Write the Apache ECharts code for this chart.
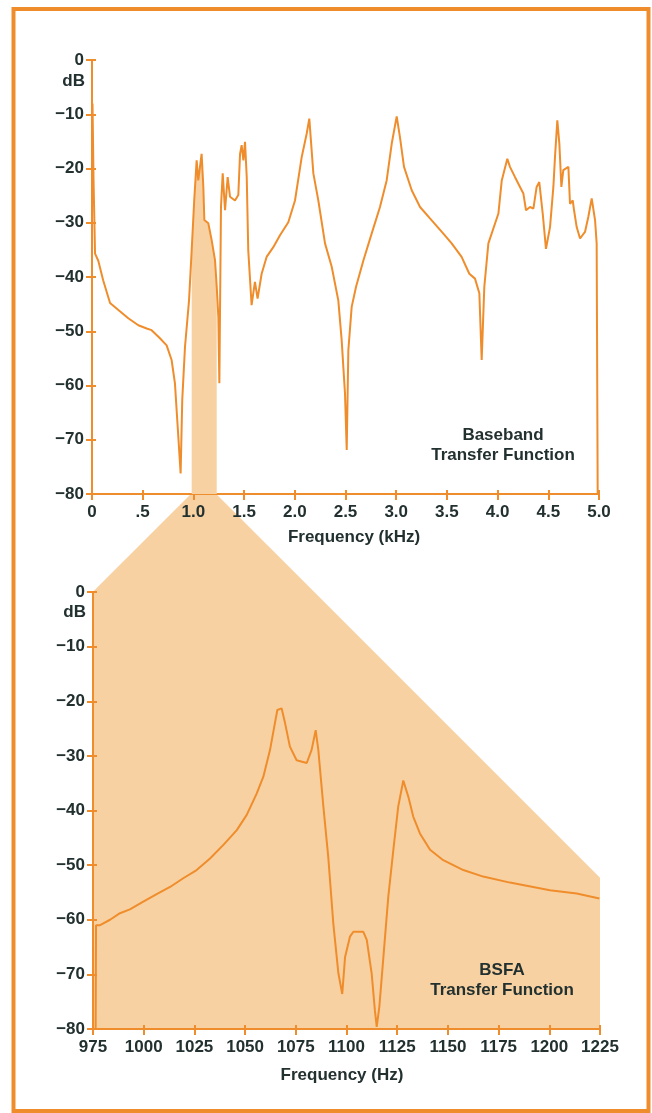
<!DOCTYPE html>
<html>
<head>
<meta charset="utf-8">
<title>Baseband and BSFA transfer functions</title>
<script src="https://cdn.jsdelivr.net/npm/echarts@6/dist/echarts.min.js"></script>
<style>
  html, body { margin: 0; padding: 0; background: #fff; }
  #chart { width: 652px; height: 1113px; }
</style>
</head>
<body>
<div id="chart"></div>
<script>
// baseband transfer function (kHz, dB)
var bbFreq = [0.005, 0.015, 0.03, 0.062, 0.11, 0.178, 0.26, 0.358, 0.457, 0.539, 0.588, 0.67, 0.736, 0.785, 0.818, 0.845,
  0.874, 0.89, 0.917, 0.957, 0.983, 1.008, 1.032, 1.048, 1.065, 1.081, 1.098, 1.108, 1.147, 1.18, 1.213, 1.23,
  1.246, 1.256, 1.272, 1.289, 1.312, 1.338, 1.361, 1.41, 1.443, 1.46, 1.476, 1.493, 1.509, 1.526, 1.541, 1.574,
  1.607, 1.633, 1.673, 1.722, 1.788, 1.854, 1.936, 2.002, 2.068, 2.117, 2.143, 2.183, 2.232, 2.298, 2.364, 2.429,
  2.462, 2.495, 2.512, 2.528, 2.561, 2.604, 2.677, 2.758, 2.84, 2.906, 2.956, 3.005, 3.037, 3.077, 3.153, 3.235,
  3.333, 3.465, 3.547, 3.645, 3.721, 3.777, 3.82, 3.843, 3.869, 3.909, 4.008, 4.041, 4.096, 4.122, 4.172, 4.221,
  4.254, 4.28, 4.32, 4.353, 4.385, 4.411, 4.445, 4.477, 4.517, 4.55, 4.566, 4.589, 4.609, 4.629, 4.648, 4.698,
  4.714, 4.741, 4.754, 4.78, 4.813, 4.862, 4.895, 4.928, 4.961, 4.977, 4.987]
var bbDb = [-8, -22, -35.7, -37, -40.6, -44.8, -46.1, -47.6, -48.9, -49.5, -49.8, -51.3, -52.6, -55.3, -59.6, -67.6,
  -76.2, -62.7, -52.9, -44.3, -35.1, -25.9, -18.5, -22.2, -19.7, -17.3, -23.4, -29.5, -30.1, -33.2, -36.9, -41.8,
  -47.3, -59.6, -27.1, -20.9, -27.7, -21.6, -25.2, -25.9, -24.9, -17.3, -15.7, -18.5, -15.1, -21.6, -35.1, -45.2,
  -40.9, -44, -39.4, -36.3, -34.5, -32.3, -29.9, -25.9, -17.9, -13.6, -10.8, -20.9, -25.9, -33.8, -38.1, -44.3,
  -51.6, -61.5, -71.9, -53.5, -45.5, -41.8, -36.9, -32, -27.1, -22.2, -15.4, -10.4, -14.2, -19.7, -24, -27.1,
  -29.2, -32, -33.8, -36.3, -39.4, -40.3, -43, -55.3, -41.8, -33.8, -28.3, -22.2, -18.2, -19.7, -21.6, -23.4,
  -24.6, -27.7, -27.1, -27.4, -23.4, -22.5, -28.3, -34.8, -30.8, -23.4, -17.9, -11.1, -15.4, -23.4, -20.3, -19.7,
  -26.5, -25.9, -27.7, -30.8, -32.9, -31.7, -28.9, -25.5, -29.5, -33.8, -80]

// BSFA zoom (Hz, dB)
var bsFreq = [976.3, 976.5, 978.5, 983.4, 988.3, 993.2, 999.8, 1006.4, 1013, 1019.5, 1026.1, 1032.7, 1039.3, 1045.9,
  1050.8, 1055.7, 1059, 1062.3, 1064.7, 1065.9, 1068, 1069.7, 1072.1, 1075.4, 1080.4, 1082.8, 1084.8, 1086.1,
  1088.6, 1091, 1093.5, 1096, 1097.9, 1099.3, 1101.7, 1103.4, 1108.3, 1110, 1112.4, 1114, 1114.9, 1116.2, 1118.2,
  1120.6, 1123.1, 1125.5, 1128, 1130.5, 1132.9, 1136.2, 1141.2, 1147.7, 1157.6, 1167.4, 1180.6, 1200.3, 1213.5, 1224.7]
var bsDb = [-80, -61, -61, -60, -58.8, -58.1, -56.7, -55.3, -54, -52.4, -50.9, -48.8, -46.3, -43.6,
  -40.8, -36.9, -33.8, -28.9, -24, -21.6, -21.3, -24, -28.3, -30.8, -31.3, -28.9, -25.3, -28.9,
  -39.3, -48.5, -60.7, -69.8, -73.6, -66.8, -63.1, -62.2, -62.2, -63.7, -69.8, -76.6, -79.6, -75.9, -66.8,
  -55.8, -47.2, -39.3, -34.5, -37.5, -41.1, -44.2, -47.2, -49.1, -50.9, -52.1, -53.2, -54.6, -55.2, -56.1]

var topTickLabels = ['0', '.5', '1.0', '1.5', '2.0', '2.5', '3.0', '3.5', '4.0', '4.5', '5.0']
var bandLo = 0.975
var bandHi = 1.225

var ORANGE = '#ef8d2c'
var PEACH = '#f8d1a2'
var INK = '#22302f'
var FONT = '"Liberation Sans", Arial, sans-serif'

function pairs(xs, ys) {
  return xs.map(function(x, i) { return [x, ys[i]] })
}
var bbData = pairs(bbFreq, bbDb)
var bsData = pairs(bsFreq, bsDb)
var bandData = bbData.filter(function(p) { return p[0] >= bandLo && p[0] <= bandHi + 0.01 })

function dbLabel(v) {
  return v === 0 ? '0' : '\u2212' + Math.abs(v)
}

// each axis is drawn twice: outer ticks + labels, then inner ticks, so ticks cross the line
function xAxes(grid, min, max, interval, fmt) {
  return [{
    gridIndex: grid, type: 'value', min: min, max: max, interval: interval, position: 'bottom',
    axisLine: { onZero: false, lineStyle: { color: ORANGE, width: 2 } },
    axisTick: { length: 6, lineStyle: { color: ORANGE, width: 2 } },
    axisLabel: { margin: 10, color: INK, fontSize: 17, fontWeight: 'bold', fontFamily: FONT, formatter: fmt },
    splitLine: { show: false }
  }, {
    gridIndex: grid, type: 'value', min: min, max: max, interval: interval, position: 'bottom',
    axisLine: { show: false, onZero: false },
    axisTick: { inside: true, length: 4, lineStyle: { color: ORANGE, width: 2 } },
    axisLabel: { show: false },
    splitLine: { show: false }
  }]
}
function yAxes(grid) {
  return [{
    gridIndex: grid, type: 'value', min: -80, max: 0, interval: 10, position: 'left',
    axisLine: { onZero: false, lineStyle: { color: ORANGE, width: 2 } },
    axisTick: { length: 6, lineStyle: { color: ORANGE, width: 2 } },
    axisLabel: { margin: 8, color: INK, fontSize: 17, fontWeight: 'bold', fontFamily: FONT, formatter: dbLabel },
    splitLine: { show: false }
  }, {
    gridIndex: grid, type: 'value', min: -80, max: 0, interval: 10, position: 'left',
    axisLine: { show: false, onZero: false },
    axisTick: { inside: true, length: 4, lineStyle: { color: ORANGE, width: 2 } },
    axisLabel: { show: false },
    splitLine: { show: false }
  }]
}

var chart = echarts.init(document.getElementById('chart'))
chart.setOption({
  animation: false,
  backgroundColor: '#fff',
  grid: [
    { left: 92, top: 60, width: 507, height: 434 },
    { left: 93, top: 592, width: 507, height: 437 }
  ],
  xAxis: xAxes(0, 0, 5, 0.5, function(v) { return topTickLabels[Math.round(v / 0.5)] })
    .concat(xAxes(1, 975, 1225, 25, function(v) { return String(v) })),
  yAxis: yAxes(0).concat(yAxes(1)),
  series: [{
    type: 'line', xAxisIndex: 0, yAxisIndex: 0, data: bandData, z: 1,
    showSymbol: false, lineStyle: { width: 0 },
    areaStyle: { color: PEACH, opacity: 1, origin: 'start' }
  }, {
    type: 'line', xAxisIndex: 0, yAxisIndex: 0, data: bbData, z: 3,
    showSymbol: false, lineStyle: { color: ORANGE, width: 2 }
  }, {
    type: 'line', xAxisIndex: 2, yAxisIndex: 2, data: bsData, z: 3,
    showSymbol: false, lineStyle: { color: ORANGE, width: 2 }
  }]
})

// zoom wedge from the baseband band down to the BSFA plot, 45 degree edges
var a = chart.convertToPixel({ gridIndex: 0 }, [bandLo, -80])
var b = chart.convertToPixel({ gridIndex: 0 }, [bandHi, -80])
var bl = chart.convertToPixel({ gridIndex: 1 }, [975, -80])
var br = chart.convertToPixel({ gridIndex: 1 }, [1225, -80])
var top0 = chart.convertToPixel({ gridIndex: 0 }, [0, 0])
var top1 = chart.convertToPixel({ gridIndex: 1 }, [975, 0])

function txt(s, x, y, align) {
  return {
    type: 'text', z: 10,
    style: { text: s, x: x, y: y, fill: INK, font: 'bold 17px ' + FONT, textAlign: align || 'center', textVerticalAlign: 'middle' }
  }
}

chart.setOption({
  graphic: [{
    type: 'polygon', z: -10, silent: true,
    shape: { points: [
      a, b,
      [br[0], b[1] + (br[0] - b[0])],
      br, bl,
      [bl[0], a[1] + (a[0] - bl[0])]
    ] },
    style: { fill: PEACH }
  }, {
    type: 'rect', z: 10, silent: true,
    shape: { x: 13.5, y: 9, width: 635, height: 1102 },
    style: { fill: null, stroke: ORANGE, lineWidth: 4 }
  },
  txt('dB', top0[0] - 7, top0[1] + 21, 'right'),
  txt('dB', top1[0] - 7, top1[1] + 20, 'right'),
  txt('Frequency (kHz)', 354, 537),
  txt('Frequency (Hz)', 342, 1075),
  txt('Baseband', 503, 435),
  txt('Transfer Function', 503, 455),
  txt('BSFA', 502, 970),
  txt('Transfer Function', 502, 990)
  ]
})
</script>
</body>
</html>
